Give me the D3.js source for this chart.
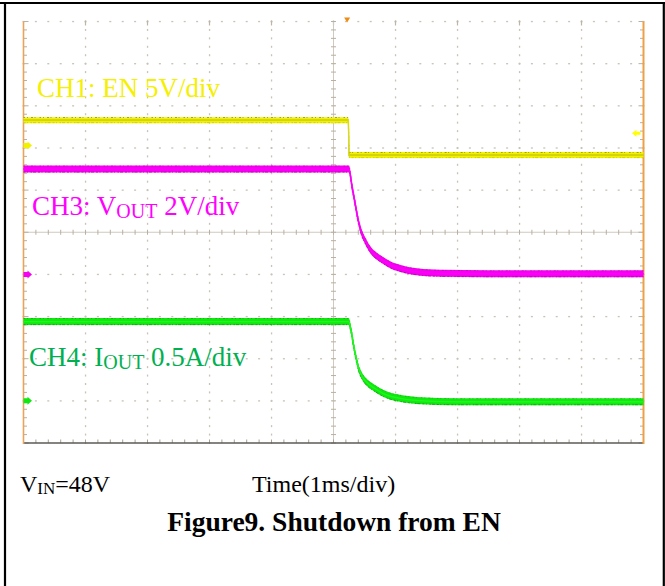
<!DOCTYPE html>
<html><head><meta charset="utf-8">
<script src="https://cdn.jsdelivr.net/npm/d3@7"></script>
<style>
html,body{margin:0;padding:0;background:#fff;}
svg{display:block;}
text{font-family:"Liberation Serif","Times New Roman",serif;}
</style></head><body>
<svg id="chart" width="665" height="586"></svg>
<script>
// Screen: 10 horizontal divisions at 1 ms/div (time relative to trigger, ms), 10 vertical divisions
const timeDomain = [-5, 5];
const divDomain = [-5, 5];

// CH1: EN (V)
const ch1Time = [-5, 0.24, 0.25, 5];
const ch1Values = [3.0, 3.0, -1.15, -1.15];

// CH3: VOUT (V)
const ch3Time = [-5, 0.25, 0.30, 0.35, 0.40, 0.45, 0.52, 0.60, 0.70, 0.80, 0.93, 1.07, 1.35, 1.72, 2.5, 5];
const ch3Values = [5.0, 5.0, 4.15, 3.35, 2.55, 2.0, 1.55, 1.14, 0.86, 0.66, 0.43, 0.29, 0.12, 0.05, 0.03, 0.03];

// CH4: IOUT (A)
const ch4Time = [-5, 0.25, 0.266, 0.293, 0.319, 0.363, 0.40, 0.454, 0.535, 0.669, 0.798, 1.07, 1.34, 2.0, 5];
const ch4Values = [0.94, 0.94, 0.895, 0.80, 0.68, 0.515, 0.40, 0.30, 0.22, 0.147, 0.09, 0.03, 0.005, -0.01, -0.01];

// Per-channel scale (units/div) and ground marker position (div)
const channelNames = ["CH1", "CH3", "CH4"];
const channelScales = [5, 2, 0.5];
const channelOffsets = [2.06, -1.0, -4.0];

// Trigger: level on CH1 (V) and horizontal position (ms)
const triggerLevel = 1.45;
const triggerTime = 0.22;

const svg = d3.select("#chart");
const W = 665, H = 586;

const x = d3.scaleLinear().domain(timeDomain).range([23.5, 643.5]);
const y = d3.scaleLinear().domain(divDomain).range([443, 21.5]);

// outer frame
const frame = svg.append("g").attr("stroke", "#000").attr("stroke-width", 2.2);
frame.append("line").attr("x1", 0).attr("x2", W).attr("y1", 3).attr("y2", 3);
frame.append("line").attr("x1", 5).attr("x2", 5).attr("y1", 2).attr("y2", H);
frame.append("line").attr("x1", 663.8).attr("x2", 663.8).attr("y1", 2).attr("y2", H);

// graticule
const grid = svg.append("g");
const majorT = d3.range(-5, 5.001, 1);
const majorD = d3.range(-5, 5.001, 1);
const minorT = d3.range(-5, 5.001, 0.2);
const minorD = d3.range(-5, 5.001, 0.2);
const dotColor = "#c9c2b6";

// dotted horizontal rows
majorD.filter(d => d !== 0 && d !== -5).forEach(d => {
  grid.selectAll(null).data(minorT).enter().append("rect")
    .attr("x", t => x(t) - 1).attr("y", y(d) - 0.6)
    .attr("width", 2).attr("height", 1.3).attr("fill", dotColor);
});
// dotted vertical columns
majorT.filter(t => t !== 0 && t !== -5 && t !== 5).forEach(t => {
  grid.selectAll(null).data(minorD).enter().append("rect")
    .attr("x", x(t) - 0.6).attr("y", d => y(d) - 1)
    .attr("width", 1.3).attr("height", 2).attr("fill", dotColor);
});
// top edge major ticks
grid.selectAll(null).data(majorT.filter(t => t > -5 && t < 5)).enter().append("line")
  .attr("x1", t => x(t)).attr("x2", t => x(t)).attr("y1", y(5) - 1).attr("y2", y(5) + 4)
  .attr("stroke", "#bdb5a8").attr("stroke-width", 1.2);

// center cross with minor ticks
const axisColor = "#cfc9bf";
grid.append("line").attr("x1", x(-5)).attr("x2", x(5)).attr("y1", y(0)).attr("y2", y(0))
  .attr("stroke", axisColor).attr("stroke-width", 1);
grid.append("line").attr("x1", x(0)).attr("x2", x(0)).attr("y1", y(5)).attr("y2", y(-5))
  .attr("stroke", axisColor).attr("stroke-width", 1);
grid.selectAll(null).data(minorT).enter().append("line")
  .attr("x1", t => x(t)).attr("x2", t => x(t)).attr("y1", y(0) - 2.5).attr("y2", y(0) + 2.5)
  .attr("stroke", "#b8b0a2").attr("stroke-width", 1);
grid.selectAll(null).data(minorD).enter().append("line")
  .attr("x1", x(0) - 2.5).attr("x2", x(0) + 2.5).attr("y1", d => y(d)).attr("y2", d => y(d))
  .attr("stroke", "#b8b0a2").attr("stroke-width", 1);

// side edge ticks
grid.selectAll(null).data(minorD).enter().append("line")
  .attr("x1", x(-5)).attr("x2", d => x(-5) + (Math.abs(d % 1) < 1e-6 ? 5 : 3.5))
  .attr("y1", d => y(d)).attr("y2", d => y(d)).attr("stroke", "#b8b0a2").attr("stroke-width", 1);
grid.selectAll(null).data(minorD).enter().append("line")
  .attr("x1", x(5)).attr("x2", d => x(5) - (Math.abs(d % 1) < 1e-6 ? 5 : 3.5))
  .attr("y1", d => y(d)).attr("y2", d => y(d)).attr("stroke", "#b8b0a2").attr("stroke-width", 1);
// bottom edge ticks and line
grid.selectAll(null).data(minorT).enter().append("line")
  .attr("x1", t => x(t)).attr("x2", t => x(t)).attr("y1", y(-5)).attr("y2", y(-5) - 3.5)
  .attr("stroke", "#a8a092").attr("stroke-width", 1);
grid.append("line").attr("x1", x(-5)).attr("x2", x(5)).attr("y1", y(-5)).attr("y2", y(-5))
  .attr("stroke", "#5c5a56").attr("stroke-width", 1.6);
// orange side borders
grid.append("line").attr("x1", x(-5)).attr("x2", x(-5)).attr("y1", y(5)).attr("y2", y(-5) + 1)
  .attr("stroke", "#e9a35a").attr("stroke-width", 1.6);
grid.append("line").attr("x1", x(5)).attr("x2", x(5)).attr("y1", y(5)).attr("y2", y(-5) + 1)
  .attr("stroke", "#eda046").attr("stroke-width", 2);

// traces
const traceTimes = [ch1Time, ch3Time, ch4Time];
const traceValues = [ch1Values, ch3Values, ch4Values];
const traceFill = ["#f2f200", "#f500f0", "#10e810"];
const traceCore = ["#ffff00", "#ff00ff", "#22ff22"];
const traceEdge = ["#6b6b10", "#7a0a78", "#1a6a1a"];
const traceHalf = [3, 3.5, 3.5];

traceTimes.forEach((times, i) => {
  const pts = times.map((t, k) => ({t, d: traceValues[i][k] / channelScales[i] + channelOffsets[i]}));
  const h = traceHalf[i];
  const curve = i === 0 ? d3.curveLinear : d3.curveMonotoneX;
  const g = svg.append("g");
  const area = d3.area().x(p => x(p.t)).y0(p => y(p.d) - h).y1(p => y(p.d) + h).curve(curve);
  g.append("path").datum(pts).attr("d", area).attr("fill", traceFill[i]);
  const lineAt = off => d3.line().x(p => x(p.t)).y(p => y(p.d) + off).curve(curve);
  // noisy envelope edges
  g.append("path").datum(pts).attr("d", lineAt(-h + 0.4)).attr("fill", "none")
    .attr("stroke", traceEdge[i]).attr("stroke-width", 1).attr("opacity", i === 0 ? 0.6 : 0.35)
    .attr("stroke-dasharray", "1.5 2 1 3 2 1.5 1 4");
  g.append("path").datum(pts).attr("d", lineAt(h - 0.4)).attr("fill", "none")
    .attr("stroke", traceEdge[i]).attr("stroke-width", 1).attr("opacity", i === 0 ? 0.25 : 0.55)
    .attr("stroke-dasharray", "2 1.5 1 2.5 1.5 1 3 2");
  // trace centre
  g.append("path").datum(pts).attr("d", lineAt(0)).attr("fill", "none")
    .attr("stroke", i === 0 ? "#8a8a20" : traceFill[i]).attr("stroke-width", i === 0 ? 1.2 : 1.6);
  g.append("path").datum(pts).attr("d", lineAt(0)).attr("fill", "none")
    .attr("stroke", traceCore[i]).attr("stroke-width", 1.4).attr("opacity", 0.7);
});

// ground markers at the left edge
channelOffsets.forEach((d, i) => {
  const yy = y(d), x0 = x(-5);
  svg.append("path")
    .attr("d", `M${x0},${yy - 2.5}L${x0 + 4},${yy - 2.5}L${x0 + 4},${yy - 4}L${x0 + 8.5},${yy}L${x0 + 4},${yy + 4}L${x0 + 4},${yy + 2.5}L${x0},${yy + 2.5}Z`)
    .attr("fill", traceFill[i]);
});
// trigger level marker at the right edge
{
  const yy = y(triggerLevel / channelScales[0] + channelOffsets[0]), x1 = x(5) - 3;
  svg.append("path")
    .attr("d", `M${x1},${yy - 1.5}L${x1 - 4},${yy - 1.5}L${x1 - 4},${yy - 3.5}L${x1 - 8.5},${yy}L${x1 - 4},${yy + 3.5}L${x1 - 4},${yy + 1.5}L${x1},${yy + 1.5}Z`)
    .attr("fill", "#ffff00");
}
// trigger position marker at the top
{
  const xx = x(triggerTime), yy = y(5);
  svg.append("path")
    .attr("d", `M${xx - 3},${yy - 4}L${xx + 3},${yy - 4}L${xx},${yy + 1}Z`)
    .attr("fill", "#f08a10");
}

// channel labels
const labels = [
  {t: [["CH1: EN 5V/div", false]], x: 37, y: 97, c: "#f5f000"},
  {t: [["CH3: V", false], ["OUT", true], [" 2V/div", false]], x: 32, y: 215, c: "#ff00ff"},
  {t: [["CH4: I", false], ["OUT", true], [" 0.5A/div", false]], x: 29, y: 366, c: "#00b050"}
];
labels.forEach(l => {
  const tx = svg.append("text").attr("x", l.x).attr("y", l.y).attr("fill", l.c).attr("font-size", 27);
  l.t.forEach(([s, sub]) => {
    const ts = tx.append("tspan").text(s);
    if (sub) ts.attr("font-size", 20).attr("dy", 3);
    else if (tx.selectAll("tspan").size() > 1) ts.attr("dy", -3);
  });
});

// captions
const vin = svg.append("text").attr("x", 20).attr("y", 492).attr("font-size", 24).attr("fill", "#000");
vin.append("tspan").text("V");
vin.append("tspan").text("IN").attr("font-size", 17).attr("dy", 2);
vin.append("tspan").text("=48V").attr("dy", -2);
svg.append("text").attr("x", 252).attr("y", 492).attr("font-size", 24).attr("fill", "#000")
  .text("Time(1ms/div)");
svg.append("text").attr("x", 334).attr("y", 531).attr("font-size", 27.5).attr("font-weight", "bold")
  .attr("text-anchor", "middle").attr("fill", "#000").text("Figure9. Shutdown from EN");
</script>
</body></html>
